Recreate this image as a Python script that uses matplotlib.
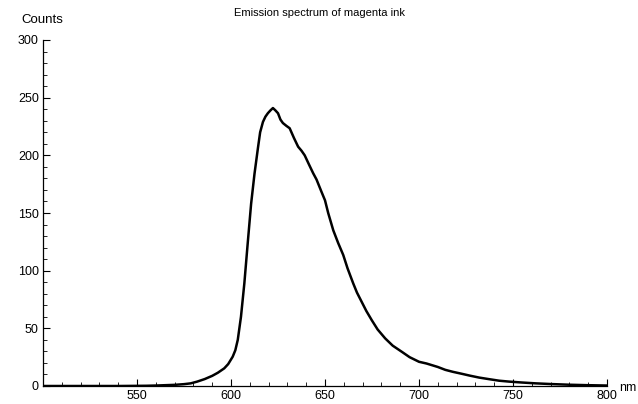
import matplotlib
matplotlib.use("Agg")
import matplotlib.pyplot as plt
from matplotlib.ticker import MultipleLocator

# emission spectrum
wavelength = [500, 520, 540, 555, 560, 565, 570, 575, 578.6, 582, 586, 590, 593, 596.4,
              598.5, 600.9, 602.3, 603.6, 605.3, 607.1, 608.9, 610.7, 612.5, 614.3, 615.5,
              617, 618.3, 619.6, 621, 622.3, 623.6, 625, 626.3, 627.6, 629.5, 631.2, 633.5,
              635.7, 637.5, 639.2, 641.5, 643.7, 645.5, 648.1, 650, 651.7, 654.4, 657,
              659.7, 662, 665, 667, 669.5, 672, 674.9, 678, 682, 686, 691, 695, 700, 704,
              707, 710, 714, 718, 723, 727, 732, 737, 742.6, 748, 755, 762, 770, 780, 790, 800]
counts = [0, 0, 0, 0.2, 0.4, 0.7, 1.0, 1.6, 2.3, 3.8, 6.0, 8.8, 11.5, 15.3,
          19, 25.4, 31, 40, 60, 89, 124, 158, 184, 206, 220,
          229, 233.5, 236.5, 239, 241, 239, 236.5, 231, 228, 225.5, 223.5, 215,
          207.5, 204, 200, 192, 184.5, 179, 168.5, 161, 150, 135, 124,
          113.6, 102, 89, 81, 73, 65, 57, 49, 41.3, 35, 29.5, 25, 21, 19.5,
          18, 16.5, 14, 12.3, 10.5, 9, 7.3, 6, 4.6, 3.8, 3.0, 2.3, 1.7, 1.1, 0.7, 0.4]

title = "Emission spectrum of magenta ink"
xlabel = "nm"
ylabel = "Counts"

plt.rcParams['font.family'] = ['Liberation Sans', 'DejaVu Sans']

fig = plt.figure(figsize=(6.38, 4.04), dpi=100)
ax = fig.add_axes([43 / 638, 18 / 404, 564 / 638, 346 / 404])

ax.plot(wavelength, counts, color="black", lw=1.8, solid_joinstyle="round")

ax.set_xlim(500, 800)
ax.set_ylim(0, 300)

ax.spines['top'].set_visible(False)
ax.spines['right'].set_visible(False)
ax.spines['left'].set_linewidth(0.9)
ax.spines['bottom'].set_linewidth(0.9)

ax.set_xticks([550, 600, 650, 700, 750, 800])
ax.set_yticks([0, 50, 100, 150, 200, 250, 300])
ax.xaxis.set_minor_locator(MultipleLocator(10))
ax.yaxis.set_minor_locator(MultipleLocator(10))
ax.tick_params(which="major", direction="in", length=5, width=0.8, labelsize=9, pad=3)
ax.tick_params(which="minor", direction="in", length=3, width=0.6)

ax.text(-0.038, 1.058, ylabel, transform=ax.transAxes, fontsize=9.5, ha="left", va="center")
ax.text(1.022, -0.005, xlabel, transform=ax.transAxes, fontsize=9, ha="left", va="center")
fig.text(0.5, 0.968, title, fontsize=8, ha="center", va="center")

fig.savefig("out.png", dpi=100)
